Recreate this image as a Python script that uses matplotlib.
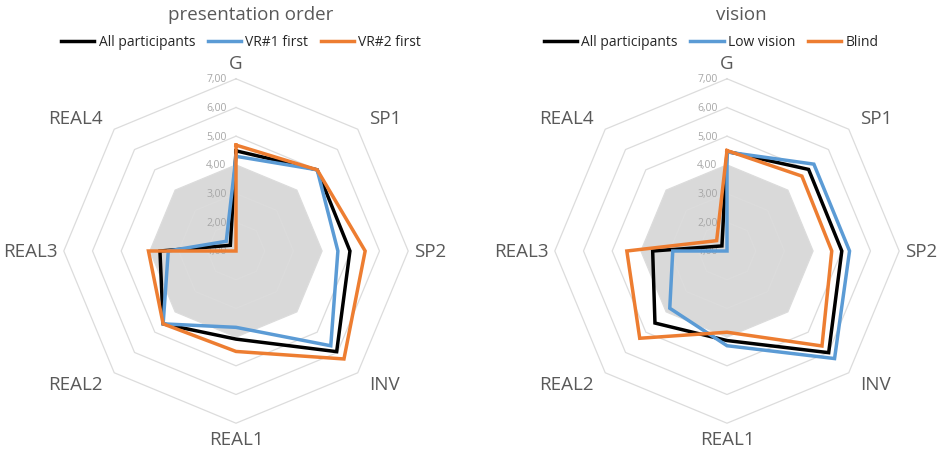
import numpy as np
import matplotlib
matplotlib.use("Agg")
import matplotlib.pyplot as plt

plt.rcParams['font.family'] = ['Open Sans', 'DejaVu Sans']

categories = ['G', 'SP1', 'SP2', 'INV', 'REAL1', 'REAL2', 'REAL3', 'REAL4']
tick_values = [1, 2, 3, 4, 5, 6, 7]
tick_labels = ['1,00', '2,00', '3,00', '4,00', '5,00', '6,00', '7,00']
reference_level = [4.0] * 8

# presentation order
order_all = [4.49, 5.00, 4.97, 5.96, 4.07, 4.59, 3.65, 1.28]
order_vr1 = [4.30, 5.00, 4.55, 5.67, 3.66, 4.59, 3.36, 1.48]
order_vr2 = [4.69, 5.00, 5.50, 6.32, 4.50, 4.59, 4.05, 1.00]

# vision
vision_all = [4.47, 5.02, 5.00, 6.01, 4.12, 4.55, 3.59, 1.25]
vision_low = [4.45, 5.28, 5.27, 6.30, 4.30, 3.82, 2.89, 1.00]
vision_blind = [4.50, 4.69, 4.65, 5.68, 3.83, 5.30, 4.49, 1.51]

C_BLACK = '#000000'
C_BLUE = '#5b9bd5'
C_ORANGE = '#ed7d31'
TXT = '#595959'

W, H = 938, 452
U = 28.7  # pixels per value unit
VMIN = 1.0

fig = plt.figure(figsize=(W / 100, H / 100), dpi=100)

n = len(categories)
angles = np.deg2rad(90 - 45 * np.arange(n))


def xy(vals):
    r = np.asarray(vals, dtype=float) - VMIN
    x = r * np.cos(angles)
    y = r * np.sin(angles)
    return np.append(x, x[0]), np.append(y, y[0])


def radar(cx, cy_top, title, title_x, series, legend_x):
    cy = H - cy_top
    ax = fig.add_axes([(cx - 8 * U) / W, (cy - 6.9 * U) / H, 16 * U / W, 14.4 * U / H])
    ax.set_xlim(-8, 8)
    ax.set_ylim(-6.9, 7.5)
    ax.axis('off')
    # shaded reference
    fx, fy = xy(reference_level)
    ax.fill(fx, fy, color='#d9d9d9', lw=0, zorder=1)
    # grid rings
    for v in tick_values[1:]:
        gx, gy = xy([v] * n)
        ax.plot(gx, gy, color='#dcdcdc', lw=0.9, zorder=2)
    # tick labels along G axis
    for v, lab in zip(tick_values, tick_labels):
        ax.text(-0.33, v - VMIN, lab, ha='right', va='center', fontsize=7.5,
                color='#a6a6a6', zorder=3)
    # category labels
    for a, cat in zip(angles, categories):
        ca, sa = np.cos(a), np.sin(a)
        if abs(ca) < 1e-6:
            r = 6.25
            ha = 'center'
            va = 'bottom' if sa > 0 else 'top'
        elif abs(sa) < 1e-6:
            r = 6.2
            ha = 'left' if ca > 0 else 'right'
            va = 'center'
        else:
            r = 6.55
            ha = 'left' if ca > 0 else 'right'
            va = 'center'
        ax.text(r * ca, r * sa, cat, ha=ha, va=va, fontsize=13.5, color=TXT)
    handles = []
    for vals, col, lab in series:
        sx, sy = xy(vals)
        h, = ax.plot(sx, sy, color=col, lw=2.5, zorder=4, label=lab,
                     solid_joinstyle='miter')
        handles.append(h)
    fig.text(title_x / W, 1 - 15 / H, title, ha='center', va='center',
             fontsize=13.5, color=TXT)
    leg = fig.legend(handles=handles, loc='center', bbox_to_anchor=(legend_x / W, 1 - 43 / H),
                     ncol=3, frameon=False, handlelength=2.4, columnspacing=0.9,
                     handletextpad=0.3, fontsize=10, borderaxespad=0)
    for t in leg.get_texts():
        t.set_color('#262626')


radar(236, 252, 'presentation order', 251,
      [(order_all, C_BLACK, 'All participants'),
       (order_vr1, C_BLUE, 'VR#1 first'),
       (order_vr2, C_ORANGE, 'VR#2 first')], 241)

radar(727, 252, 'vision', 741,
      [(vision_all, C_BLACK, 'All participants'),
       (vision_low, C_BLUE, 'Low vision'),
       (vision_blind, C_ORANGE, 'Blind')], 711)

fig.savefig('out.png', dpi=100)
